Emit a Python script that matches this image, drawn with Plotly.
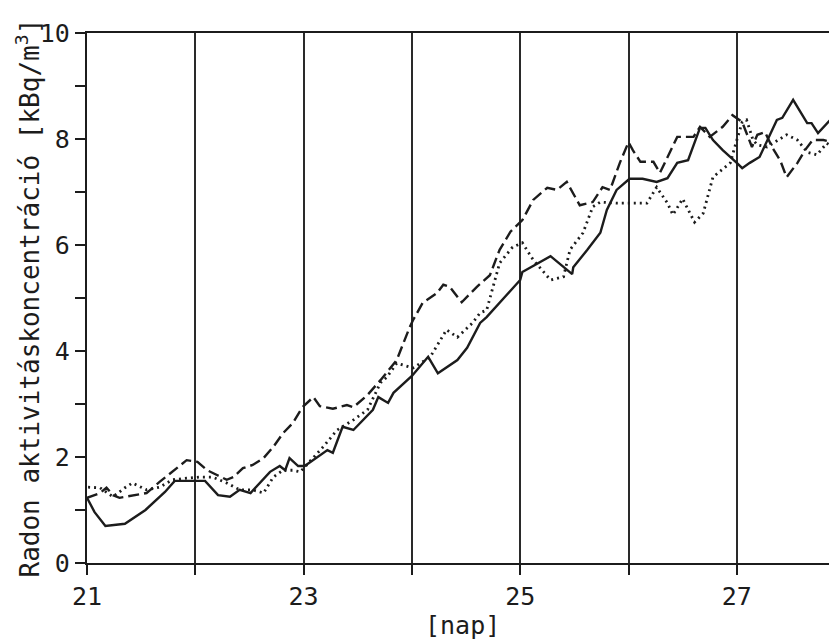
import plotly.graph_objects as go

# Solid series
solid_x = [21.00, 21.07, 21.17, 21.35, 21.54, 21.72, 21.81, 22.09, 22.21, 22.32, 22.41, 22.51,
           22.69, 22.78, 22.83, 22.87, 22.95, 23.01, 23.22, 23.27, 23.36, 23.46, 23.64, 23.69,
           23.78, 23.83, 24.00, 24.15, 24.24, 24.42, 24.51, 24.63, 24.69, 24.81, 25.00, 25.02,
           25.28, 25.48, 25.49, 25.62, 25.74, 25.80, 25.89, 26.01, 26.13, 26.26, 26.36, 26.45,
           26.55, 26.66, 26.71, 26.78, 26.87, 27.00, 27.05, 27.12, 27.21, 27.37, 27.42, 27.52,
           27.65, 27.69, 27.75, 27.89, 27.93]
solid_y = [1.23, 0.96, 0.70, 0.74, 1.00, 1.34, 1.55, 1.55, 1.28, 1.25, 1.38, 1.32,
           1.72, 1.83, 1.75, 1.98, 1.83, 1.83, 2.13, 2.08, 2.57, 2.51, 2.89, 3.13,
           3.02, 3.21, 3.53, 3.89, 3.58, 3.83, 4.06, 4.53, 4.64, 4.91, 5.34, 5.49,
           5.79, 5.45, 5.58, 5.91, 6.23, 6.66, 7.04, 7.25, 7.25, 7.19, 7.26, 7.55,
           7.60, 8.21, 8.21, 7.98, 7.79, 7.55, 7.45, 7.55, 7.66, 8.36, 8.40, 8.74,
           8.30, 8.30, 8.11, 8.42, 8.83]

# Dashed series
dash_x = [21.00, 21.12, 21.18, 21.24, 21.30, 21.42, 21.55, 21.67, 21.79, 21.92, 22.02, 22.11,
          22.20, 22.29, 22.35, 22.44, 22.53, 22.63, 22.72, 22.81, 22.90, 22.99, 23.09, 23.15,
          23.27, 23.40, 23.46, 23.59, 23.71, 23.86, 23.98, 24.01, 24.10, 24.23, 24.29, 24.35,
          24.46, 24.60, 24.72, 24.81, 24.91, 25.02, 25.12, 25.25, 25.34, 25.43, 25.55, 25.67,
          25.76, 25.83, 25.92, 26.00, 26.04, 26.11, 26.23, 26.29, 26.45, 26.60, 26.66, 26.75,
          26.87, 26.96, 27.05, 27.14, 27.19, 27.26, 27.33, 27.40, 27.46, 27.56, 27.63, 27.70,
          27.80, 27.93]
dash_y = [1.23, 1.32, 1.42, 1.28, 1.23, 1.28, 1.32, 1.53, 1.72, 1.94, 1.91, 1.75,
          1.66, 1.57, 1.62, 1.79, 1.85, 1.98, 2.19, 2.45, 2.64, 2.94, 3.13, 2.96,
          2.91, 2.98, 2.94, 3.17, 3.45, 3.83, 4.45, 4.58, 4.91, 5.09, 5.25, 5.21,
          4.92, 5.21, 5.43, 5.91, 6.25, 6.47, 6.85, 7.08, 7.04, 7.19, 6.75, 6.81,
          7.09, 7.04, 7.55, 7.94, 7.79, 7.57, 7.57, 7.36, 8.04, 8.04, 8.23, 8.04,
          8.23, 8.45, 8.32, 7.85, 8.08, 8.13, 7.83, 7.60, 7.28, 7.55, 7.79, 7.98,
          7.98, 7.92]

# Dotted series
dot_x = [21.01, 21.12, 21.24, 21.35, 21.42, 21.55, 21.67, 21.79, 21.92, 22.04, 22.16, 22.29,
         22.41, 22.53, 22.63, 22.72, 22.81, 22.90, 22.97, 23.03, 23.18, 23.31, 23.46, 23.59,
         23.71, 23.77, 23.86, 24.01, 24.17, 24.32, 24.42, 24.56, 24.63, 24.69, 24.81, 24.93,
         25.02, 25.12, 25.28, 25.40, 25.46, 25.58, 25.67, 25.74, 25.89, 26.04, 26.17, 26.26,
         26.36, 26.41, 26.50, 26.61, 26.69, 26.78, 26.94, 27.00, 27.05, 27.09, 27.15, 27.19,
         27.28, 27.46, 27.56, 27.65, 27.74, 27.83, 27.93]
dot_y = [1.43, 1.42, 1.25, 1.42, 1.51, 1.38, 1.43, 1.57, 1.60, 1.62, 1.62, 1.51,
         1.38, 1.38, 1.32, 1.62, 1.75, 1.75, 1.72, 1.85, 2.19, 2.51, 2.70, 2.89,
         3.40, 3.51, 3.77, 3.68, 3.89, 4.40, 4.26, 4.53, 4.72, 4.77, 5.66, 5.96,
         6.04, 5.72, 5.34, 5.40, 5.91, 6.23, 6.72, 6.81, 6.79, 6.79, 6.79, 7.09,
         6.79, 6.57, 6.87, 6.43, 6.60, 7.28, 7.55, 7.98, 8.32, 8.36, 7.98, 7.89,
         7.85, 8.08, 7.98, 7.75, 7.70, 7.92, 7.79]

x_major = [21, 23, 25, 27]
x_minor = [22, 24, 26, 28]
y_major = [0, 2, 4, 6, 8, 10]
y_minor = [1, 3, 5, 7, 9]

FONT = "DejaVu Sans Mono"
INK = "#1c1c1c"

fig = go.Figure()
fig.add_trace(go.Scatter(x=solid_x, y=solid_y, mode="lines",
                         line=dict(color=INK, width=2.4), showlegend=False))
fig.add_trace(go.Scatter(x=dash_x, y=dash_y, mode="lines",
                         line=dict(color=INK, width=2.4, dash="11px,5px"), showlegend=False))
fig.add_trace(go.Scatter(x=dot_x, y=dot_y, mode="lines",
                         line=dict(color=INK, width=2.8, dash="2px,4px"), showlegend=False))

# page body has an 8px default margin, so the figure is sized to fit the window
fig.update_layout(
    width=829, height=634,
    margin=dict(l=79, r=0, t=25, b=79, autoexpand=False),
    paper_bgcolor="white", plot_bgcolor="white",
    font=dict(family=FONT, size=25, color=INK),
    xaxis=dict(range=[21, 21 + 750 / 108.3], tickmode="array", tickvals=x_major,
               showgrid=True, gridcolor="#2a2a2a", gridwidth=1.8,
               showline=True, linecolor=INK, linewidth=2.2, mirror=True,
               ticks="outside", ticklen=10, tickwidth=2, tickcolor=INK,
               minor=dict(tickmode="array", tickvals=x_minor, ticks="outside", ticklen=10,
                          tickwidth=2, tickcolor=INK, showgrid=True,
                          gridcolor="#2a2a2a", gridwidth=1.8),
               zeroline=False, tickfont=dict(family=FONT, size=25, color=INK)),
    yaxis=dict(range=[0, 10], tickmode="array", tickvals=y_major,
               showgrid=False, showline=True, linecolor=INK, linewidth=2.2,
               ticks="outside", ticklen=10, tickwidth=2, tickcolor=INK,
               minor=dict(tickmode="array", tickvals=y_minor, ticks="outside", ticklen=10,
                          tickwidth=2, tickcolor=INK, showgrid=False),
               zeroline=False, tickfont=dict(family=FONT, size=25, color=INK)),
    annotations=[
        dict(text="Radon aktivitáskoncentráció [kBq/m<sup>3</sup>]", textangle=-90,
             xref="paper", yref="paper", x=-0.078, y=0.5,
             xanchor="center", yanchor="middle", showarrow=False,
             font=dict(family=FONT, size=26, color=INK)),
        dict(text="[nap]", xref="paper", yref="paper", x=0.5, y=-0.117,
             xanchor="center", yanchor="middle", showarrow=False,
             font=dict(family=FONT, size=25, color=INK)),
    ],
)

fig.write_html("out.html")
